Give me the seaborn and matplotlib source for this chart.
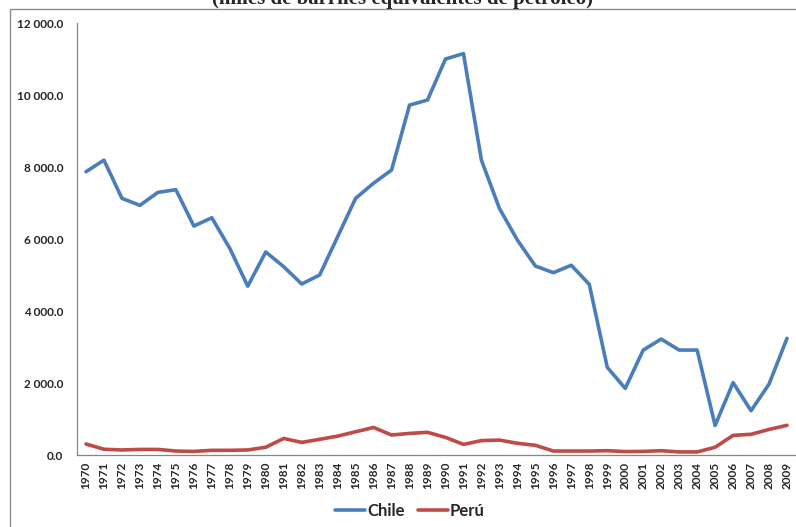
import matplotlib
matplotlib.use("Agg")
import matplotlib.pyplot as plt
import seaborn as sns
import pandas as pd
from matplotlib.patches import Rectangle
from matplotlib.ticker import FuncFormatter

years = list(range(1970, 2010))
chile = [7870, 8190, 7130, 6935, 7295, 7370, 6360, 6590, 5740, 4690,
         5640, 5230, 4750, 5000, 6065, 7130, 7550, 7915, 9720, 9860,
         11000, 11150, 8190, 6850, 5970, 5250, 5065, 5270, 4740, 2435,
         1850, 2915, 3220, 2915, 2915, 820, 2010, 1230, 1970, 3240]
peru = [305, 160, 140, 155, 155, 110, 100, 130, 130, 140,
        215, 460, 350, 435, 525, 645, 765, 555, 600, 630,
        490, 295, 400, 415, 325, 270, 110, 110, 110, 120,
        95, 100, 120, 85, 85, 215, 545, 575, 710, 825]
series_names = ["Chile", "Perú"]
title_text = "(miles de barriles equivalentes de petróleo)"

df = pd.DataFrame({
    "Año": years * 2,
    "Valor": chile + peru,
    "País": [series_names[0]] * len(years) + [series_names[1]] * len(years),
})

sns.set_style("white")
plt.rcParams["font.family"] = ["Lato", "DejaVu Sans"]

fig = plt.figure(figsize=(7.96, 5.27), dpi=100)
ax = fig.add_axes([77 / 796, 1 - 455 / 527, 1 - 77 / 796, (455 - 23) / 527])

sns.lineplot(data=df, x="Año", y="Valor", hue="País",
             palette={"Chile": "#4A7EBB", "Perú": "#BE4B48"},
             linewidth=2.6, ax=ax, legend=True)

ax.set_xlim(1969.5, 2009.5)
ax.set_ylim(0, 12000)
ax.set_yticks(range(0, 12001, 2000))
ax.yaxis.set_major_formatter(FuncFormatter(lambda v, p: f"{v:,.1f}".replace(",", " ")))
ax.set_xticks(years)
ax.set_xticklabels([str(y) for y in years], rotation=90)
ax.tick_params(axis="both", length=0, labelsize=8.5)
ax.tick_params(axis="y", pad=10)
ax.tick_params(axis="x", pad=5)
for lab in ax.get_xticklabels() + ax.get_yticklabels():
    lab.set_fontweight("bold")
ax.set_xlabel("")
ax.set_ylabel("")
for s in ["top", "right"]:
    ax.spines[s].set_visible(False)
for s in ["left", "bottom"]:
    ax.spines[s].set_color("#868686")
    ax.spines[s].set_linewidth(0.9)

handles, labels = ax.get_legend_handles_labels()
ax.legend_.remove()
fig.legend(handles, labels, loc="center", bbox_to_anchor=(410 / 796, 1 - 511 / 527),
           ncol=2, frameon=False, prop={"weight": "bold", "size": 12},
           handlelength=1.8, handletextpad=0.1, columnspacing=0.8)

fig.patches.append(Rectangle((10 / 796, -0.1), 1.2, 1 - 9 / 527 + 0.1,
                             transform=fig.transFigure, fill=False,
                             edgecolor="#8c8c8c", linewidth=1.0))

fig.text(403 / 796, 1 - 4 / 527, title_text, ha="center", va="baseline",
         fontsize=15, fontweight="bold", family=["Liberation Serif", "DejaVu Serif"])

fig.savefig("out.png", dpi=100)
